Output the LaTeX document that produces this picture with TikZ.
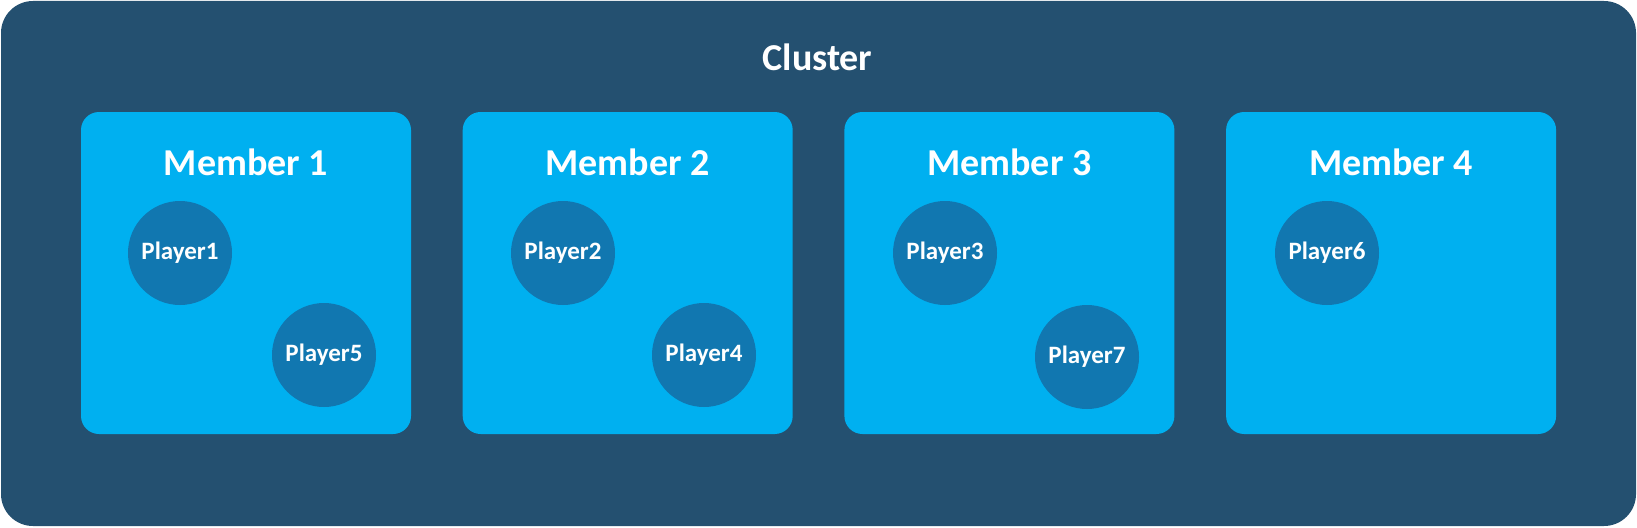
\documentclass[tikz,border=0pt]{standalone}
\usepackage{fontspec}
\setmainfont{Carlito}
\usepackage{tikz}
\usetikzlibrary{positioning}

\definecolor{clusterblue}{RGB}{36,80,112}
\definecolor{memberblue}{RGB}{0,176,240}
\definecolor{playerblue}{RGB}{17,119,176}

\begin{document}
\begin{tikzpicture}[x=1pt,y=-1pt,
    cluster box/.style={rectangle,fill=clusterblue,rounded corners=32pt,
      minimum width=1635pt,minimum height=525pt,inner sep=0pt},
    member box/.style={rectangle,fill=memberblue,rounded corners=18pt,
      minimum width=330pt,minimum height=322pt,inner sep=0pt},
    player node/.style={circle,fill=playerblue,minimum size=104pt,inner sep=0pt,
      text=white,font=\fontsize{25}{29}\selectfont\bfseries},
    title/.style={text=white,inner sep=0pt,font=\fontsize{38}{42}\selectfont\bfseries}]
  \useasboundingbox (0,0) rectangle (1637,527);

  \node[cluster box] (cluster) at (818.5,263.5) {};
  \node[title] (cluster title) at (817.5,57) {Cluster};

  % members
  \foreach \i in {1,...,4} {
    \node[member box] (m\i) at ({246+381.7*(\i-1)},273) {};
    \node[title, below=37pt of m\i.north] (m\i title) {Member \i};
  }

  % players
  \node[player node] (p1) at (180,253) {Player1};
  \node[player node] (p5) at (324,355) {Player5};
  \node[player node] (p2) at (563,253) {Player2};
  \node[player node] (p4) at (704,355) {Player4};
  \node[player node] (p3) at (945,253) {Player3};
  \node[player node] (p7) at (1087,357) {Player7};
  \node[player node] (p6) at (1327,253) {Player6};
\end{tikzpicture}
\end{document}
